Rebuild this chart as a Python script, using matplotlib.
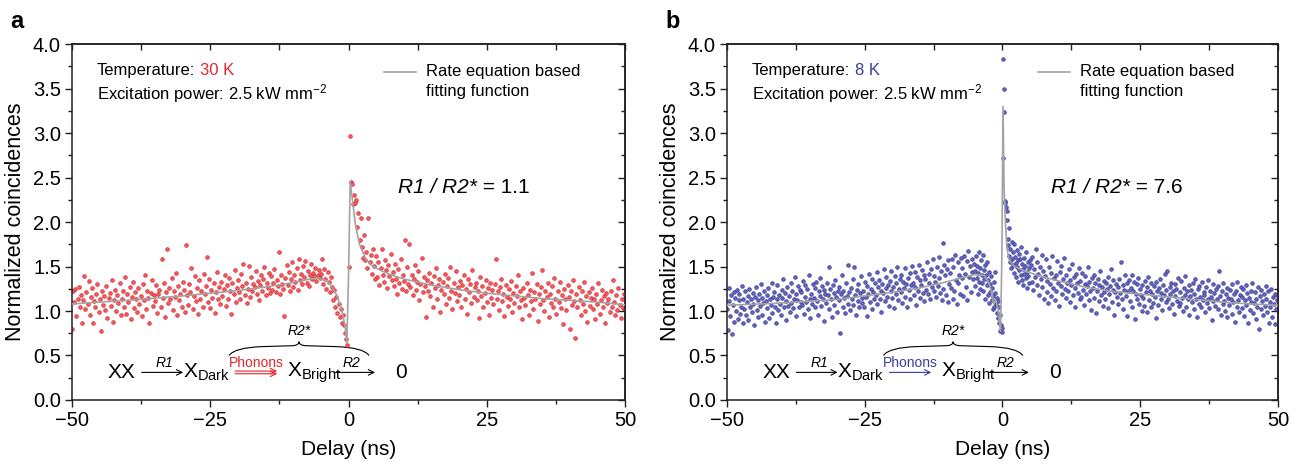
import numpy as np
import matplotlib.pyplot as plt
from matplotlib.ticker import MultipleLocator
from matplotlib.path import Path
from matplotlib.patches import PathPatch

plt.rcParams['font.family'] = ['Liberation Sans', 'DejaVu Sans']
plt.rcParams['mathtext.fontset'] = 'custom'
plt.rcParams['mathtext.rm'] = 'Liberation Sans'
plt.rcParams['mathtext.it'] = 'Liberation Sans:italic'
plt.rcParams['mathtext.default'] = 'regular'

RED = '#e0262e'
BLUE = '#3d3d9e'
FITC = '#a3a3a3'
INK = '#231f20'

# ---- panel a (30 K) : coincidences, three delay ranges ----
a_left = [
    0.80, 1.22, 1.10, 1.25, 0.94, 1.13, 1.27, 1.05, 1.18, 0.86, 1.12, 1.39, 1.02, 1.21, 1.08,
    1.34, 0.95, 1.16, 1.26, 0.86, 1.11, 1.04, 1.19, 1.30, 0.99, 1.14, 0.77, 1.23, 1.07, 1.17,
    1.01, 1.28, 0.92, 1.15, 1.20, 1.06, 1.35, 0.88, 1.12, 1.24, 1.00, 1.18, 1.09, 1.31, 0.96,
    1.14, 1.22, 1.05, 1.38, 0.97, 1.19, 1.10, 1.27, 0.91, 1.16, 1.33, 1.03, 1.21, 1.13, 0.99,
    1.26, 1.08, 1.17, 0.94, 1.30, 1.12, 1.40, 1.02, 1.23, 1.15, 0.87, 1.20, 1.35, 1.06, 1.18,
    1.11, 1.29, 0.98, 1.19, 1.24, 1.04, 1.58, 1.15, 1.32, 0.93, 1.21, 1.70, 1.09, 1.26, 1.13,
    1.37, 1.01, 1.22, 1.16, 1.43, 0.96, 1.28, 1.12, 1.19, 1.05, 1.33, 1.24, 0.99, 1.74, 1.18,
    1.07, 1.30, 1.21, 1.48, 1.02, 1.17, 1.39, 1.11, 1.26, 0.97, 1.35, 1.14, 1.23, 1.05, 1.42,
    1.19, 1.28, 1.61, 1.10, 1.36, 1.03, 1.24, 1.15, 1.31, 0.98, 1.21, 1.44, 1.13, 1.27, 1.08,
    1.33, 1.17, 1.25, 1.40, 1.06, 1.29, 1.14, 1.37, 1.22, 0.97, 1.31, 1.19, 1.46, 1.10, 1.26,
    1.35, 1.21, 1.14, 1.42, 1.28, 1.53, 1.18, 1.32, 1.09, 1.25, 1.51, 1.16, 1.38, 1.23, 1.30,
    1.27, 1.45, 1.19, 1.34, 1.12, 1.29, 1.41, 1.22, 1.36, 1.50, 1.18, 1.31, 1.26, 1.43, 1.20,
    1.39, 1.24, 1.32, 1.47, 1.21, 1.35, 1.28, 1.66, 1.19, 1.41, 1.30, 1.25, 0.94, 1.37, 1.52,
    1.29, 1.44, 1.22, 1.36, 1.55, 1.27, 1.40, 1.33, 1.48, 1.24, 1.59, 1.35, 1.42, 1.30, 1.51,
    1.38, 1.56, 1.32, 1.45, 1.28, 1.41, 1.53, 1.36, 1.43, 1.39, 1.48, 1.34, 1.40, 1.46, 1.37,
]
a_mid = [
    1.42, 1.58, 1.30, 1.47, 1.36, 1.25, 1.44, 1.33, 1.21, 1.38,
    1.27, 1.12, 1.24, 1.05, 1.16, 0.98, 1.08, 0.93, 1.02, 0.86,
    0.95, 0.84, 0.75, 0.68, 0.62, 1.50, 2.97, 2.45, 2.43, 2.20,
    2.30, 2.22, 2.25, 1.95, 2.10, 1.80, 2.05, 1.72, 1.60, 1.85,
    1.57, 1.66, 1.48, 2.05, 1.55, 1.63, 1.42, 1.70, 1.51, 1.36,
]
a_right = [
    1.62, 1.38, 1.55, 1.29, 1.48, 1.70, 1.41, 1.33, 1.57, 1.46, 1.26, 1.52, 1.39, 1.64, 1.35,
    1.44, 1.28, 1.53, 1.36, 1.19, 1.47, 1.31, 1.58, 1.25, 1.40, 1.34, 1.80, 1.22, 1.49, 1.30,
    1.75, 1.27, 1.41, 1.18, 1.36, 1.52, 1.24, 1.33, 1.45, 1.12, 1.30, 1.60, 1.21, 1.38, 1.28,
    0.93, 1.35, 1.22, 1.43, 1.17, 1.31, 1.05, 1.39, 1.26, 1.48, 1.14, 1.29, 1.36, 0.99, 1.24,
    1.33, 1.19, 1.42, 1.08, 1.28, 1.37, 1.15, 1.49, 1.23, 1.02, 1.31, 1.20, 1.45, 1.11, 1.27,
    1.18, 1.34, 1.04, 1.29, 1.41, 1.13, 1.25, 0.97, 1.36, 1.21, 1.30, 1.09, 1.46, 1.16, 1.27,
    1.32, 1.12, 1.23, 0.92, 1.38, 1.17, 1.28, 1.05, 1.20, 1.35, 1.10, 1.26, 0.96, 1.31, 1.15,
    1.24, 1.08, 1.30, 1.58, 1.14, 1.22, 1.01, 1.27, 1.36, 1.11, 1.19, 0.94, 1.29, 1.16, 1.06,
    1.25, 1.13, 1.34, 0.99, 1.20, 1.09, 1.28, 1.17, 1.40, 1.04, 1.23, 1.12, 0.91, 1.26, 1.15,
    1.07, 1.32, 1.18, 0.95, 1.24, 1.11, 1.43, 1.02, 1.21, 1.14, 1.30, 0.89, 1.19, 1.08, 1.27,
    1.46, 1.12, 1.00, 1.23, 1.16, 1.31, 0.93, 1.19, 1.09, 1.28, 1.05, 1.37, 1.14, 0.97, 1.22,
    1.10, 1.33, 1.03, 1.18, 0.85, 1.25, 1.13, 1.01, 1.29, 1.16, 0.80, 1.22, 1.07, 1.35, 1.11,
    0.70, 1.19, 1.04, 1.27, 1.12, 0.96, 1.23, 1.08, 1.33, 1.00, 1.17, 0.88, 1.21, 1.06, 1.15,
    1.26, 1.02, 1.14, 0.91, 1.19, 1.08, 1.31, 0.97, 1.12, 1.24, 1.05, 1.17, 0.86, 1.20, 1.09,
    1.13, 0.99, 1.22, 1.04, 1.35, 1.10, 0.95, 1.18, 1.01, 1.26, 1.07, 0.92, 1.14, 1.03, 1.19,
    1.02,
]
fit_a_x = [-50, -40, -30, -20, -15, -10, -7, -5.5, -4, -3, -2, -1.2, -0.6, -0.3, 0.0, 0.3,
           0.8, 1.3, 2, 3, 4, 6, 8, 10, 15, 20, 25, 30, 35, 40, 45, 50]
fit_a_y = [1.08, 1.12, 1.17, 1.23, 1.27, 1.32, 1.36, 1.37, 1.34, 1.28, 1.16, 1.00, 0.82, 0.64, 1.40, 2.45,
           2.20, 1.95, 1.75, 1.60, 1.52, 1.45, 1.40, 1.36, 1.29, 1.24, 1.20, 1.17, 1.14, 1.12, 1.10, 1.07]

# ---- panel b (8 K) ----
b_left = [
    1.02, 0.79, 1.26, 1.11, 0.94, 1.18, 0.74, 1.07, 1.21, 0.88, 1.15, 1.00, 1.24, 0.91, 1.12,
    1.19, 0.97, 1.05, 1.28, 0.86, 1.13, 1.02, 1.22, 0.95, 1.10, 1.17, 0.90, 1.25, 1.04, 1.14,
    0.99, 1.20, 1.08, 0.84, 1.16, 1.27, 1.01, 1.12, 0.93, 1.19, 1.06, 1.30, 0.96, 1.15, 1.09,
    1.23, 0.88, 1.11, 1.18, 1.03, 1.26, 0.92, 1.14, 1.07, 1.31, 0.98, 1.16, 1.21, 1.05, 0.86,
    1.13, 1.29, 1.01, 1.18, 1.08, 0.95, 1.24, 1.15, 1.36, 1.04, 1.20, 0.90, 1.11, 1.27, 1.06,
    1.17, 0.99, 1.32, 1.09, 1.22, 1.03, 1.14, 1.38, 0.94, 1.19, 1.12, 1.28, 1.05, 1.24, 1.10,
    1.21, 1.07, 1.34, 0.97, 1.16, 1.29, 1.10, 1.25, 1.02, 1.41, 1.13, 0.92, 1.19, 1.08, 1.30,
    1.15, 1.26, 1.04, 1.33, 1.11, 0.96, 1.22, 1.17, 1.37, 1.06, 1.28, 1.13, 0.89, 1.24, 1.19,
    1.09, 1.31, 1.18, 1.50, 1.02, 1.25, 1.14, 0.93, 1.29, 1.20, 1.07, 1.35, 1.16, 0.99, 1.23,
    1.12, 1.27, 0.75, 1.19, 1.40, 1.05, 1.23, 1.15, 0.98, 1.32, 1.17, 1.08, 1.52, 1.21, 1.01,
    1.26, 1.13, 1.36, 1.07, 1.49, 1.18, 0.96, 1.24, 1.11, 1.30, 1.04, 1.20, 1.39, 1.15, 1.09,
    1.22, 1.05, 1.33, 1.16, 0.94, 1.28, 1.19, 1.42, 1.10, 1.25, 1.36, 1.02, 1.21, 1.14, 1.31,
    1.18, 1.44, 1.08, 1.27, 1.35, 1.13, 1.23, 0.99, 1.30, 1.20, 1.47, 1.11, 1.26, 1.38, 1.16,
    1.29, 1.06, 1.34, 1.22, 1.45, 1.15, 1.27, 1.03, 1.39, 1.19, 1.31, 1.50, 1.12, 1.25, 1.36,
    1.21, 1.40, 1.09, 1.33, 1.26, 1.48, 1.16, 1.30, 1.05, 1.37, 1.24, 1.43, 1.14, 1.29, 1.51,
    1.32, 1.18, 1.44, 1.27, 1.07, 1.38, 1.23, 1.52, 1.15, 1.35, 1.29, 1.46, 1.20, 1.41, 1.11,
    1.36, 1.24, 1.55, 1.19, 1.42, 1.31, 1.13, 1.47, 1.27, 1.58, 1.22, 1.39, 1.33, 1.16, 1.49,
    1.28, 1.61, 1.37, 1.20, 1.45, 1.12, 1.76, 1.25, 1.52, 1.40, 1.18, 1.47, 1.10, 1.57, 1.30,
    1.43, 1.26, 1.59, 1.14, 1.49, 1.22, 1.63, 1.35, 1.08, 1.31, 1.55, 1.41, 1.19, 1.60, 1.37,
    1.48, 1.17, 1.62, 1.42, 1.27, 1.56, 1.12, 1.67, 1.38, 1.51, 1.21, 1.59, 1.44, 1.36, 1.53,
]
b_mid = [
    1.45, 1.28, 1.62, 1.37, 1.51, 1.19, 1.43, 1.66, 1.33, 1.48,
    1.25, 1.57, 1.40, 1.31, 1.63, 1.22, 1.46, 1.36, 1.52, 1.14,
    1.41, 1.29, 1.55, 1.18, 1.35, 1.44, 1.09, 1.30, 1.21, 1.39,
    1.12, 1.26, 1.02, 1.17, 1.33, 1.05, 1.20, 1.44, 1.08, 1.15,
    0.98, 1.11, 0.92, 1.04, 0.86, 0.95, 0.78, 0.84, 0.76, 0.81,
    2.72, 3.83, 3.50, 3.24, 2.24, 2.22, 2.17, 2.12, 2.02, 1.74,
    1.81, 1.62, 1.93, 1.55, 1.70, 1.48, 1.78, 1.59, 1.66, 1.52,
    1.75, 1.43, 1.61, 1.54, 1.38, 1.69, 1.50, 1.57, 1.33, 1.64,
    1.46, 1.58, 1.40, 1.72, 1.35, 1.53, 1.47, 1.29, 1.60, 1.42,
    1.51, 1.37, 1.66, 1.44, 1.26, 1.55, 1.39, 1.48, 1.31, 1.57,
]
b_right = [
    1.52, 1.33, 1.61, 1.24, 1.47, 1.38, 1.70, 1.29, 1.55, 1.42, 1.18, 1.49, 1.36, 1.63, 1.27,
    1.45, 1.14, 1.39, 1.58, 1.21, 1.34, 1.09, 1.50, 1.30, 1.43, 1.17, 1.62, 1.26, 1.37, 1.12,
    1.41, 1.23, 1.56, 1.32, 1.06, 1.44, 1.28, 1.51, 1.19, 1.36, 1.60, 1.25, 1.40, 1.15, 1.31,
    1.22, 1.47, 1.35, 1.10, 1.29, 1.53, 1.18, 1.38, 1.26, 1.04, 1.42, 1.31, 1.20, 1.48, 1.13,
    1.34, 1.16, 1.43, 1.24, 1.07, 1.30, 1.39, 1.19, 1.28, 1.50, 1.12, 1.33, 1.22, 1.01, 1.37,
    1.26, 1.41, 1.15, 1.31, 0.98, 1.23, 1.36, 1.11, 1.29, 1.45, 1.18, 1.27, 1.06, 1.34, 1.21,
    1.14, 1.32, 1.25, 1.03, 1.38, 1.19, 1.28, 1.47, 1.10, 1.24, 1.35, 0.96, 1.21, 1.30, 1.16,
    1.27, 1.08, 1.36, 1.20, 1.55, 1.13, 1.29, 1.02, 1.24, 1.40, 1.17, 1.31, 0.94, 1.22, 1.35,
    1.11, 1.26, 1.41, 1.05, 1.23, 1.33, 0.91, 1.19, 1.30, 1.14, 1.37, 1.08, 1.25, 1.18, 1.00,
    1.29, 1.15, 1.06, 1.34, 1.21, 0.99, 1.27, 1.38, 1.12, 1.23, 1.31, 1.04, 1.19, 1.09, 1.28,
    1.16, 0.92, 1.33, 1.22, 1.07, 1.26, 1.36, 1.13, 1.20, 1.01, 1.29, 1.18, 1.42, 1.10, 1.24,
    1.45, 1.14, 1.03, 1.27, 1.19, 1.32, 1.08, 1.23, 0.97, 1.30, 1.17, 1.25, 1.11, 1.37, 1.06,
    1.21, 1.09, 1.34, 1.15, 1.00, 1.26, 1.18, 1.39, 1.05, 1.22, 1.13, 0.95, 1.29, 1.17, 1.24,
    1.10, 1.31, 1.02, 1.19, 1.36, 1.14, 0.93, 1.25, 1.08, 1.28, 1.16, 1.04, 1.33, 1.12, 1.21,
    1.18, 0.99, 1.27, 1.09, 1.35, 1.14, 1.03, 1.23, 1.16, 0.90, 1.30, 1.11, 1.20, 1.06, 1.25,
    1.13, 1.28, 1.02, 1.45, 1.17, 0.96, 1.22, 1.08, 1.31, 1.11, 1.00, 1.19, 1.26, 0.93, 1.15,
    1.07, 1.24, 1.14, 0.97, 1.30, 1.10, 1.19, 0.88, 1.22, 1.05, 1.33, 1.12, 0.99, 1.18, 1.27,
    1.16, 1.03, 1.25, 0.94, 1.12, 1.29, 1.07, 1.20, 0.86, 1.15, 1.01, 1.23, 1.10, 1.32, 0.98,
    1.09, 1.21, 0.91, 1.14, 1.05, 1.27, 0.80, 1.17, 1.02, 1.24, 1.11, 0.95, 1.19, 1.06, 1.28,
    1.13, 0.99, 1.22, 0.87, 1.10, 1.04, 1.25, 0.93, 1.16, 1.08, 0.85, 1.19, 1.02, 1.12, 1.17,
]
fit_b_x = [-50, -40, -30, -25, -20, -15, -10, -7, -5, -3.3, -2.5, -2.0, -1.6, -1.2, -0.7, -0.35, -0.1,
           0.1, 0.3, 0.5, 0.8, 1.2, 2, 3, 4, 6, 10, 15, 20, 25, 30, 35, 40, 45, 50]
fit_b_y = [1.065, 1.09, 1.13, 1.17, 1.21, 1.26, 1.33, 1.38, 1.41, 1.40, 1.32, 1.22, 1.08, 1.12, 1.00, 0.77, 1.60,
           3.30, 2.40, 2.05, 1.72, 1.58, 1.51, 1.48, 1.45, 1.41, 1.34, 1.27, 1.22, 1.19, 1.16, 1.13, 1.10, 1.08, 1.065]

ranges_a = [(-50, -5.2), (-5.0, 4.8), (5.0, 50.0)]
ranges_b = [(-50, -5.15), (-5.0, 5.0), (5.15, 50.0)]


def style_axes(ax):
    ax.set_xlim(-50, 50)
    ax.set_ylim(0, 4)
    ax.xaxis.set_major_locator(MultipleLocator(25))
    ax.xaxis.set_minor_locator(MultipleLocator(12.5))
    ax.yaxis.set_major_locator(MultipleLocator(0.5))
    ax.yaxis.set_minor_locator(MultipleLocator(0.25))
    ax.yaxis.set_major_formatter(plt.FormatStrFormatter('%.1f'))
    for s in ax.spines.values():
        s.set_linewidth(1.1)
        s.set_color(INK)
    ax.tick_params(which='both', direction='out', width=1.0, color=INK, labelsize=14.5, pad=3)
    ax.tick_params(which='major', length=5)
    ax.tick_params(which='minor', length=2.8)
    top = ax.secondary_xaxis('top')
    top.xaxis.set_major_locator(MultipleLocator(12.5))
    top.tick_params(which='both', direction='in', length=4.5, width=1.0, color=INK, labeltop=False)
    right = ax.secondary_yaxis('right')
    right.yaxis.set_major_locator(MultipleLocator(0.5))
    right.yaxis.set_minor_locator(MultipleLocator(0.25))
    right.tick_params(which='major', direction='in', length=5, width=1.0, color=INK, labelright=False)
    right.tick_params(which='minor', direction='in', length=2.8, width=1.0, color=INK)
    for sec in (top, right):
        for s in sec.spines.values():
            s.set_linewidth(1.1)
            s.set_color(INK)
    ax.set_xlabel('Delay (ns)', fontsize=15, labelpad=7)
    ax.set_ylabel('Normalized coincidences', fontsize=15.5, labelpad=5)


def draw_scheme(ax, col, double):
    y = 0.31
    ax.text(-43.6, y, 'XX', fontsize=15, ha='left', va='center')
    ax.annotate('', xy=(-29.9, y), xytext=(-37.4, y),
                arrowprops=dict(arrowstyle='->', lw=0.8, color='k', shrinkA=0, shrinkB=0))
    ax.text(-33.3, 0.42, 'R1', fontsize=10, style='italic', ha='center', va='center')
    ax.text(-30.0, y, r'X$_{Dark}$', fontsize=15, ha='left', va='center')
    ax.text(-16.7, 0.42, 'Phonons', fontsize=10, color=col, ha='center', va='center')
    if double:
        for yy in (y + 0.015, y - 0.015):
            ax.annotate('', xy=(-12.9, yy), xytext=(-20.5, yy),
                        arrowprops=dict(arrowstyle='->', lw=0.8, color=col, shrinkA=0, shrinkB=0))
    else:
        ax.annotate('', xy=(-12.9, y), xytext=(-20.5, y),
                    arrowprops=dict(arrowstyle='->', lw=0.8, color=col, shrinkA=0, shrinkB=0))
    ax.text(-11.2, y, r'X$_{Bright}$', fontsize=15, ha='left', va='center')
    ax.annotate('', xy=(4.8, y), xytext=(-2.4, y),
                arrowprops=dict(arrowstyle='->', lw=0.8, color='k', shrinkA=0, shrinkB=0))
    ax.text(0.6, 0.42, 'R2', fontsize=10, style='italic', ha='center', va='center')
    ax.text(9.5, y, '0', fontsize=15, ha='center', va='center')
    # curly brace over the phonon + R2 steps
    x0, x1 = -21.6, 3.7
    xm = (x0 + x1) / 2
    verts = [(x0, 0.50), (x0 + 1.0, 0.59), (x0 + 6, 0.60),
             (xm - 1.2, 0.61), (xm, 0.615), (xm, 0.655),
             (xm, 0.615), (xm + 1.2, 0.61),
             (x1 - 6, 0.60), (x1 - 1.0, 0.59), (x1, 0.50)]
    codes = [Path.MOVETO, Path.CURVE3, Path.CURVE3,
             Path.LINETO, Path.CURVE3, Path.CURVE3,
             Path.CURVE3, Path.CURVE3,
             Path.LINETO, Path.CURVE3, Path.CURVE3]
    ax.add_patch(PathPatch(Path(verts, codes), fill=False, lw=0.8, ec='k'))
    ax.text(xm, 0.77, 'R2*', fontsize=10, style='italic', ha='center', va='center')


def panel(ax, segs, ranges, fx, fy, face, edge, temp, ratio, double):
    for vals, (lo, hi) in zip(segs, ranges):
        x = np.linspace(lo, hi, len(vals))
        ax.scatter(x, vals, s=6.5, facecolor=face, edgecolor=edge, linewidths=0.6, zorder=2)
    ax.plot(fx, fy, color=FITC, lw=1.2, zorder=3)
    style_axes(ax)
    t = ax.text(0.045, 0.925, 'Temperature:', transform=ax.transAxes, fontsize=12, va='center')
    ax.annotate(temp, xy=(1, 0), xycoords=t, xytext=(3.5, 0), textcoords='offset points',
                fontsize=12, color=edge, va='bottom')
    ax.text(0.045, 0.86, r'Excitation power: 2.5 kW mm$^{-2}$', transform=ax.transAxes,
            fontsize=12, va='center')
    ax.plot([0.565, 0.622], [0.923, 0.923], transform=ax.transAxes, color=FITC, lw=1.2)
    ax.text(0.64, 0.923, 'Rate equation based', transform=ax.transAxes, fontsize=12, va='center')
    ax.text(0.64, 0.866, 'fitting function', transform=ax.transAxes, fontsize=12, va='center')
    r = ax.text(0.589, 0.598, 'R1 / R2*', transform=ax.transAxes, fontsize=15,
                style='italic', va='center')
    ax.annotate(' = ' + ratio, xy=(1, 0.5), xycoords=r, fontsize=15, va='center')
    draw_scheme(ax, edge, double)


fig = plt.figure(figsize=(13, 4.7), dpi=100)
ax_a = fig.add_axes([0.0554, 0.149, 0.4254, 0.757])
ax_b = fig.add_axes([0.5592, 0.149, 0.4238, 0.757])

panel(ax_a, [a_left, a_mid, a_right], ranges_a, fit_a_x, fit_a_y,
      '#f0676c', RED, '30 K', '1.1', True)
panel(ax_b, [b_left, b_mid, b_right], ranges_b, fit_b_x, fit_b_y,
      '#6a6ac0', BLUE, '8 K', '7.6', False)

fig.text(0.008, 0.955, 'a', fontsize=17, fontweight='bold', va='center')
fig.text(0.512, 0.955, 'b', fontsize=17, fontweight='bold', va='center')

fig.savefig('out.png', dpi=100)
